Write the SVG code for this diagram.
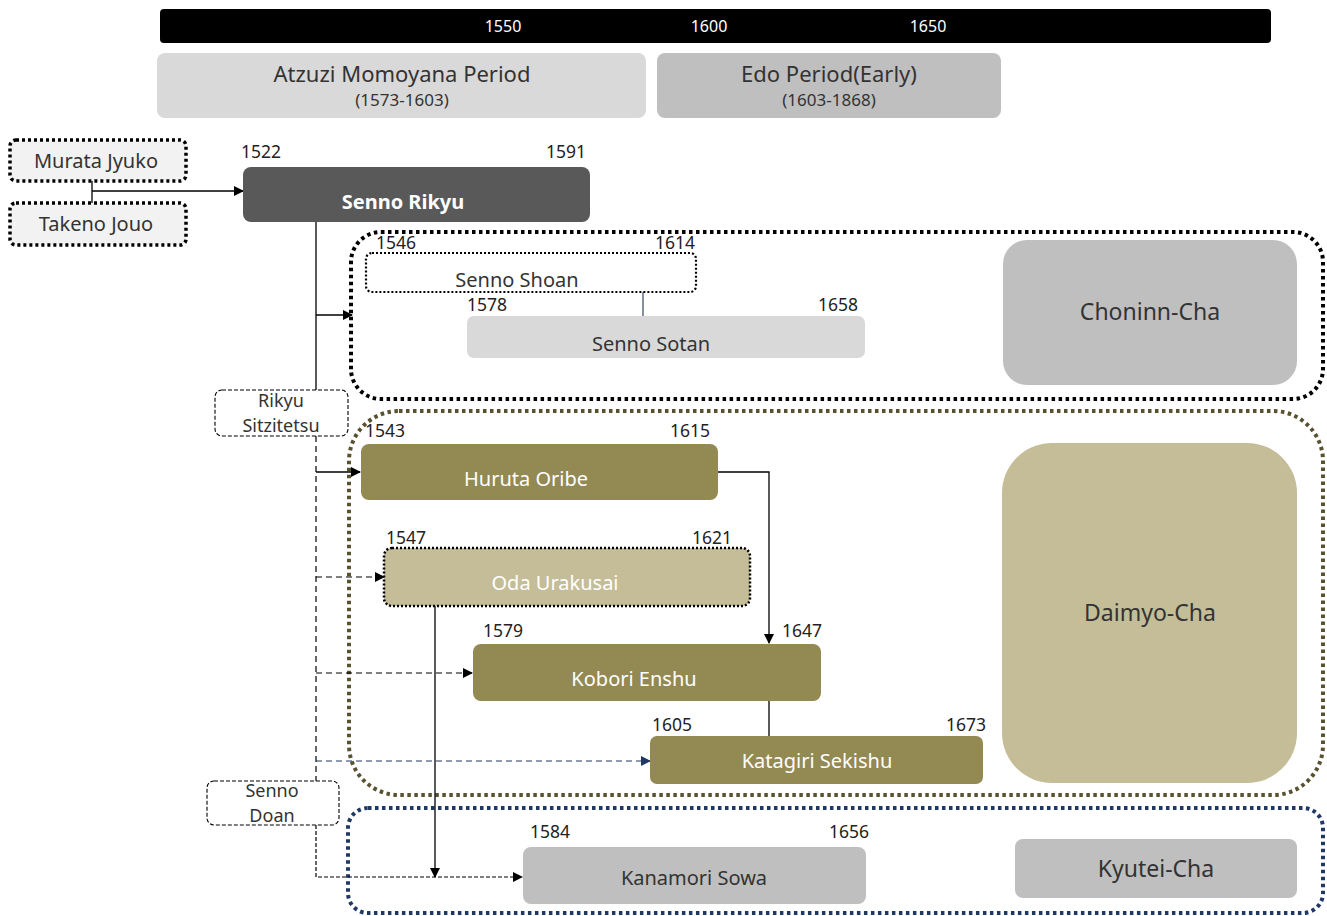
<svg xmlns="http://www.w3.org/2000/svg" width="1327" height="916" viewBox="0 0 1327 916">
<defs>
<marker id="ah" markerWidth="10" markerHeight="10" refX="9" refY="5" orient="auto" markerUnits="userSpaceOnUse"><path d="M0,0 L10,5 L0,10 Z" fill="#000"/></marker>
<marker id="ahn" markerWidth="10" markerHeight="10" refX="9" refY="5" orient="auto" markerUnits="userSpaceOnUse"><path d="M0,0 L10,5 L0,10 Z" fill="#1f3864"/></marker>
</defs>
<style>
text{font-family:"Noto Sans","Open Sans","DejaVu Sans",sans-serif;}
.yr{font-size:17.5px;fill:#222;}
.lbl{font-size:20px;text-anchor:middle;}
.two{font-size:18px;text-anchor:middle;fill:#333;}
.dark{fill:#333;}
.white{fill:#fff;}
.grp{fill:none;stroke-width:4;stroke-dasharray:3.5 3.5;}
.solid{fill:none;stroke:#000;stroke-width:1.3;}
.dash{fill:none;stroke:#000;stroke-width:1.2;stroke-dasharray:6 4;}
.big{font-size:23px;text-anchor:middle;fill:#333;}
</style>
<g id="timeline">
<rect x="160" y="9" width="1111" height="34" rx="4" fill="#000"/>
<text x="503" y="32" font-size="16" fill="#fff" text-anchor="middle">1550</text>
<text x="709" y="32" font-size="16" fill="#fff" text-anchor="middle">1600</text>
<text x="928" y="32" font-size="16" fill="#fff" text-anchor="middle">1650</text>
</g>
<g id="period-momoyama">
<rect x="157" y="53" width="489" height="65" rx="8" fill="#d9d9d9"/>
<text x="402" y="82" font-size="22" text-anchor="middle" class="dark">Atzuzi Momoyana Period</text>
<text x="402" y="106" font-size="17" text-anchor="middle" class="dark">(1573-1603)</text>
</g>
<g id="period-edo">
<rect x="657" y="53" width="344" height="65" rx="8" fill="#bfbfbf"/>
<text x="829" y="82" font-size="22" text-anchor="middle" class="dark">Edo Period(Early)</text>
<text x="829" y="106" font-size="17" text-anchor="middle" class="dark">(1603-1868)</text>
</g>
<g id="group-chonin"><rect x="351" y="232" width="972" height="167" rx="30" class="grp" stroke="#000"/></g>
<g id="group-daimyo"><rect x="349" y="411" width="974" height="384" rx="50" class="grp" stroke="#595130"/></g>
<g id="group-kyutei"><rect x="348" y="808" width="975" height="105" rx="20" class="grp" stroke="#1f3864"/></g>
<g id="connectors">
<polyline points="92,181 92,203" class="solid"/>
<line x1="92" y1="191" x2="243" y2="191" class="solid" marker-end="url(#ah)"/>
<line x1="316" y1="222" x2="316" y2="390" class="solid"/>
<line x1="316" y1="315" x2="352" y2="315" class="solid" marker-end="url(#ah)"/>
<line x1="643" y1="292" x2="643" y2="316" stroke="#44546a" stroke-width="1.3"/>
<line x1="316" y1="436" x2="316" y2="781" class="dash"/>
<line x1="316" y1="472" x2="360" y2="472" class="solid" marker-end="url(#ah)"/>
<line x1="316" y1="577" x2="384" y2="577" class="dash" marker-end="url(#ah)"/>
<line x1="316" y1="673" x2="472" y2="673" class="dash" marker-end="url(#ah)"/>
<line x1="316" y1="761" x2="650" y2="761" fill="none" stroke="#1f3864" stroke-width="1.2" stroke-dasharray="6 4" marker-end="url(#ahn)"/>
<polyline points="718,472 769,472 769,643" class="solid" marker-end="url(#ah)"/>
<line x1="769" y1="701" x2="769" y2="736" class="solid"/>
<line x1="435" y1="606" x2="435" y2="877" class="solid" marker-end="url(#ah)"/>
<polyline points="316,825 316,877 522,877" fill="none" stroke="#000" stroke-width="1.2" stroke-dasharray="4 2" marker-end="url(#ah)"/>
</g>
<g id="murata-jyuko">
<rect x="10" y="140" width="176" height="41" rx="6" fill="#f2f2f2" stroke="#000" stroke-width="3.5" stroke-dasharray="3 3"/>
<text x="96" y="168" class="lbl dark">Murata Jyuko</text>
</g>
<g id="takeno-jouo">
<rect x="10" y="203" width="176" height="42" rx="6" fill="#f2f2f2" stroke="#000" stroke-width="3.5" stroke-dasharray="3 3"/>
<text x="96" y="231" class="lbl dark">Takeno Jouo</text>
</g>
<g id="senno-rikyu">
<rect x="243" y="167" width="347" height="55" rx="8" fill="#595959"/>
<text x="403" y="209" class="lbl white" font-weight="bold">Senno Rikyu</text>
<text x="241" y="158" class="yr">1522</text>
<text x="546" y="158" class="yr">1591</text>
</g>
<g id="senno-shoan">
<rect x="366" y="253" width="330" height="39" rx="6" fill="#fff" stroke="#000" stroke-width="2.2" stroke-dasharray="2 2"/>
<text x="517" y="287" class="lbl dark">Senno Shoan</text>
<text x="376" y="249" class="yr">1546</text>
<text x="655" y="249" class="yr">1614</text>
</g>
<g id="senno-sotan">
<rect x="467" y="316" width="398" height="42" rx="7" fill="#d9d9d9"/>
<text x="651" y="351" class="lbl dark">Senno Sotan</text>
<text x="467" y="311" class="yr">1578</text>
<text x="818" y="311" class="yr">1658</text>
</g>
<g id="choninn-cha">
<rect x="1003" y="240" width="294" height="145" rx="24" fill="#bfbfbf"/>
<text x="1150" y="320" class="big">Choninn-Cha</text>
</g>
<g id="rikyu-sitzitetsu">
<rect x="215" y="390" width="133" height="46" rx="7" fill="#fff" stroke="#000" stroke-width="1.1" stroke-dasharray="4 2"/>
<text x="281" y="407" class="two">Rikyu</text>
<text x="281" y="432" class="two">Sitzitetsu</text>
</g>
<g id="huruta-oribe">
<rect x="361" y="444" width="357" height="56" rx="8" fill="#938953"/>
<text x="526" y="486" class="lbl white">Huruta Oribe</text>
<text x="365" y="437" class="yr">1543</text>
<text x="670" y="437" class="yr">1615</text>
</g>
<g id="oda-urakusai">
<rect x="384" y="548" width="366" height="58" rx="8" fill="#c4bd97" stroke="#000" stroke-width="2.5" stroke-dasharray="2 2"/>
<text x="555" y="590" class="lbl white">Oda Urakusai</text>
<text x="386" y="544" class="yr">1547</text>
<text x="692" y="544" class="yr">1621</text>
</g>
<g id="kobori-enshu">
<rect x="473" y="644" width="348" height="57" rx="8" fill="#938953"/>
<text x="634" y="686" class="lbl white">Kobori Enshu</text>
<text x="483" y="637" class="yr">1579</text>
<text x="782" y="637" class="yr">1647</text>
</g>
<g id="katagiri-sekishu">
<rect x="650" y="736" width="333" height="48" rx="7" fill="#938953"/>
<text x="817" y="768" class="lbl white">Katagiri Sekishu</text>
<text x="652" y="731" class="yr">1605</text>
<text x="946" y="731" class="yr">1673</text>
</g>
<g id="daimyo-cha">
<rect x="1002" y="443" width="295" height="340" rx="50" fill="#c4bd97"/>
<text x="1150" y="621" class="big">Daimyo-Cha</text>
</g>
<g id="senno-doan">
<rect x="207" y="781" width="132" height="44" rx="7" fill="#fff" stroke="#000" stroke-width="1.1" stroke-dasharray="4 2"/>
<text x="272" y="797" class="two">Senno</text>
<text x="272" y="822" class="two">Doan</text>
</g>
<g id="kanamori-sowa">
<rect x="523" y="847" width="343" height="57" rx="8" fill="#bfbfbf"/>
<text x="694" y="885" class="lbl dark">Kanamori Sowa</text>
<text x="530" y="838" class="yr">1584</text>
<text x="829" y="838" class="yr">1656</text>
</g>
<g id="kyutei-cha">
<rect x="1015" y="839" width="282" height="59" rx="8" fill="#bfbfbf"/>
<text x="1156" y="877" class="big">Kyutei-Cha</text>
</g>
</svg>
